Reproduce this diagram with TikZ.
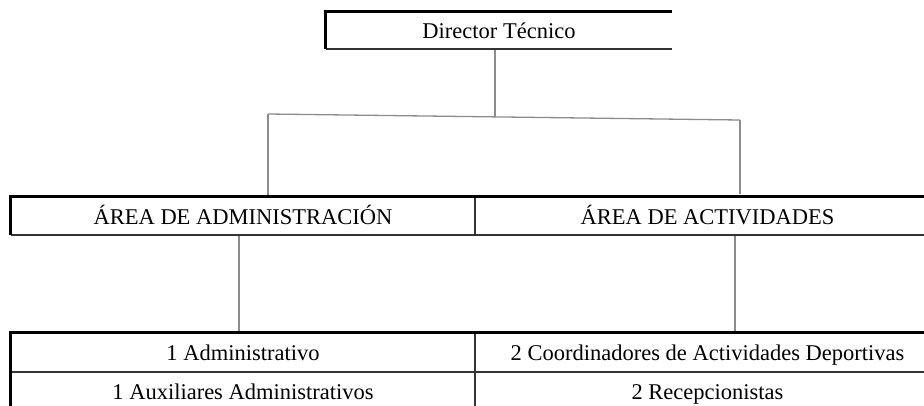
\documentclass[tikz,border=0pt]{standalone}
\usepackage{fontspec}
\setmainfont{Liberation Serif}
\tikzset{
	cell/.style={inner sep=0pt, text height=16pt, text depth=0pt, font=\fontsize{22.5}{27}\selectfont},
	rim/.style={line width=3pt, black},
	rule/.style={line width=1.5pt, black!80},
	conn/.style={line width=1.3pt, black!45},
}

\begin{document}
\begin{tikzpicture}[x=1pt, y=-1pt]
		%%%%% START %%%%%
		\useasboundingbox (0, 0) rectangle (924, 405);
		\clip (0, 0) rectangle (924, 405);
		
		\node[cell, minimum width=346pt, minimum height=37pt] (dt) at (499, 30.5) {Director Técnico};
		
		\node[cell, minimum width=464pt, minimum height=38pt] (adm) at (243, 216) {ÁREA DE ADMINISTRACIÓN};
		\node[cell, minimum width=465pt, minimum height=38pt] (act) at (707.5, 216) {ÁREA DE ACTIVIDADES};
		
		\node[cell, minimum width=464pt, minimum height=39pt] (adm1) at (243, 352.5) {1 Administrativo};
		\node[cell, minimum width=464pt, minimum height=39pt] (adm2) at (243, 391.5) {1 Auxiliares Administrativos};
		\node[cell, minimum width=465pt, minimum height=39pt] (act1) at (707.5, 352.5) {2 Coordinadores de Actividades Deportivas};
		\node[cell, minimum width=465pt, minimum height=39pt] (act2) at (707.5, 391.5) {2 Recepcionistas};
		
		% connectors
		\coordinate (jn) at (495, 117);
		\coordinate (jl) at (268, 114);
		\coordinate (jr) at (740, 120);
		\coordinate (kl) at (239, 0);
		\coordinate (kr) at (735, 0);
		
		\draw[conn] (dt.south -| jn) -- (jn);
		\draw[conn] (jl) -- (jr);
		\draw[conn] (jl) -- (jl |- adm.north);
		\draw[conn] (jr) -- ([yshift=3pt]jr |- act.north);
		\draw[conn] (adm.south -| kl) -- (adm1.north -| kl);
		\draw[conn] (act.south -| kr) -- (act1.north -| kr);
		
		% borders
		\draw[rule] (dt.south west) -- (dt.south east);
		\draw[rim] (dt.north west) -- (dt.north east);
		\draw[rim] ([yshift=1.5pt]dt.north west) -- (dt.south west);
		
		\draw[rule] (adm.south west) -- (act.south east);
		\draw[rule] (adm.north east) -- (adm.south east);
		\draw[rim] (adm.north west) -- (act.north east);
		\draw[rim] ([yshift=1.5pt]adm.north west) -- (adm.south west);
		
		\draw[rule] (adm1.south west) -- (act1.south east);
		\draw[rule] (adm1.north east) -- (adm2.south east);
		\draw[rim] (adm1.north west) -- (act1.north east);
		\draw[rim] ([yshift=1.5pt]adm1.north west) -- (adm2.south west);
		
		%%%%% END %%%%%
	\end{tikzpicture}
\end{document}
